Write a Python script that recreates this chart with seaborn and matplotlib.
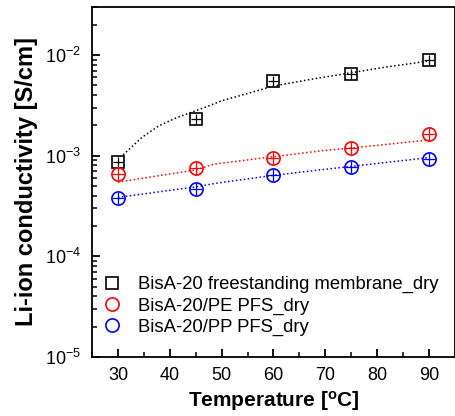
import numpy as np
import pandas as pd
import matplotlib
matplotlib.use("Agg")
import matplotlib.pyplot as plt
from matplotlib.ticker import LogLocator, MultipleLocator, NullFormatter
import seaborn as sns

# measured points
temp = [30, 45, 60, 75, 90]
free_sig = [8.75e-4, 2.33e-3, 5.56e-3, 6.44e-3, 8.9e-3]
pe_sig = [6.6e-4, 7.5e-4, 9.57e-4, 1.19e-3, 1.63e-3]
pp_sig = [3.84e-4, 4.72e-4, 6.45e-4, 7.8e-4, 9.3e-4]

# fitted curves
free_fit_t = [31, 34.7, 37.9, 41.1, 44, 47.5, 50, 55, 60, 67, 75, 82, 90]
free_fit = [1.02e-3, 1.53e-3, 1.98e-3, 2.36e-3, 2.68e-3, 3.12e-3, 3.51e-3,
            4.15e-3, 4.92e-3, 5.71e-3, 6.67e-3, 7.64e-3, 8.72e-3]
pe_fit_t = [30, 45, 48.5, 60, 69, 75, 90]
pe_fit = [5.46e-4, 7.22e-4, 8.24e-4, 9.77e-4, 1.116e-3, 1.19e-3, 1.435e-3]
pp_fit_t = [30, 45, 49, 60, 69, 75, 90]
pp_fit = [3.85e-4, 4.9e-4, 5.33e-4, 6.38e-4, 7.23e-4, 7.83e-4, 9.57e-4]

labels = ["BisA-20 freestanding membrane_dry", "BisA-20/PE PFS_dry", "BisA-20/PP PFS_dry"]
colors = ["black", "#ff0000", "#0000ff"]
markers = ["s", "o", "o"]
msizes = [8.5, 9.5, 9.5]

sns.set_style("ticks")
plt.rcParams["font.family"] = ["Liberation Sans", "DejaVu Sans"]
plt.rcParams["mathtext.fontset"] = "custom"
plt.rcParams["mathtext.rm"] = "Liberation Sans"
plt.rcParams["mathtext.bf"] = "Liberation Sans:bold"
for key in ["text.color", "axes.labelcolor", "xtick.color", "ytick.color", "axes.edgecolor"]:
    plt.rcParams[key] = "black"
plt.rcParams["xtick.direction"] = "in"
plt.rcParams["ytick.direction"] = "in"

fig = plt.figure(figsize=(4.56, 4.16), dpi=100)
ax = fig.add_axes([92 / 456, 59 / 416, 363 / 456, 350 / 416])

fits = [(free_fit_t, free_fit), (pe_fit_t, pe_fit), (pp_fit_t, pp_fit)]
points = [free_sig, pe_sig, pp_sig]

handles = []
for (ft, fv), pts, lab, c, m, ms in zip(fits, points, labels, colors, markers, msizes):
    sns.lineplot(x=ft, y=fv, color=c, linestyle=(0, (1, 1.6)), linewidth=1.1, ax=ax)
    sns.lineplot(x=temp, y=pts, color=c, marker="+", markersize=ms * 0.9,
                 markeredgecolor=c, markeredgewidth=0.9, linestyle="", ax=ax)
    sns.lineplot(x=temp, y=pts, color=c, marker=m, markersize=ms,
                 markerfacecolor="none", markeredgecolor=c, markeredgewidth=1.2,
                 linestyle="", ax=ax)
    handles.append(ax.lines[-1])

ax.set_yscale("log")
ax.set_xlim(25, 95)
ax.set_ylim(1e-5, 3e-2)

ax.xaxis.set_major_locator(MultipleLocator(10))
ax.xaxis.set_minor_locator(MultipleLocator(5))
ax.yaxis.set_major_locator(LogLocator(base=10, numticks=10))
ax.yaxis.set_minor_locator(LogLocator(base=10, subs=np.arange(2, 10), numticks=20))
ax.yaxis.set_minor_formatter(NullFormatter())

ax.tick_params(axis="both", which="major", direction="in", length=6, width=1.3,
               color="black", labelsize=13, top=False, right=False)
ax.tick_params(axis="both", which="minor", direction="in", length=3.5, width=1.1,
               color="black", top=False, right=False)
ax.tick_params(axis="y", which="both", left=True)
ax.tick_params(axis="x", which="both", bottom=True)
ax.tick_params(axis="y", which="major", pad=8)
ax.tick_params(axis="x", which="major", pad=7)

for sp in ax.spines.values():
    sp.set_linewidth(1.3)
    sp.set_color("black")

ax.set_xlabel(r"Temperature [$\mathbf{^{o}}$C]", fontsize=15, fontweight="bold", labelpad=4)
ax.set_ylabel("Li-ion conductivity [S/cm]", fontsize=17, fontweight="bold", labelpad=5)

leg = ax.legend(handles, labels, loc="lower left", bbox_to_anchor=(0.03, 0.06),
                frameon=False, fontsize=13.3, handlelength=1.0, handletextpad=0.9,
                labelspacing=0.22, borderpad=0, borderaxespad=0)

fig.savefig("out.png", dpi=100)
